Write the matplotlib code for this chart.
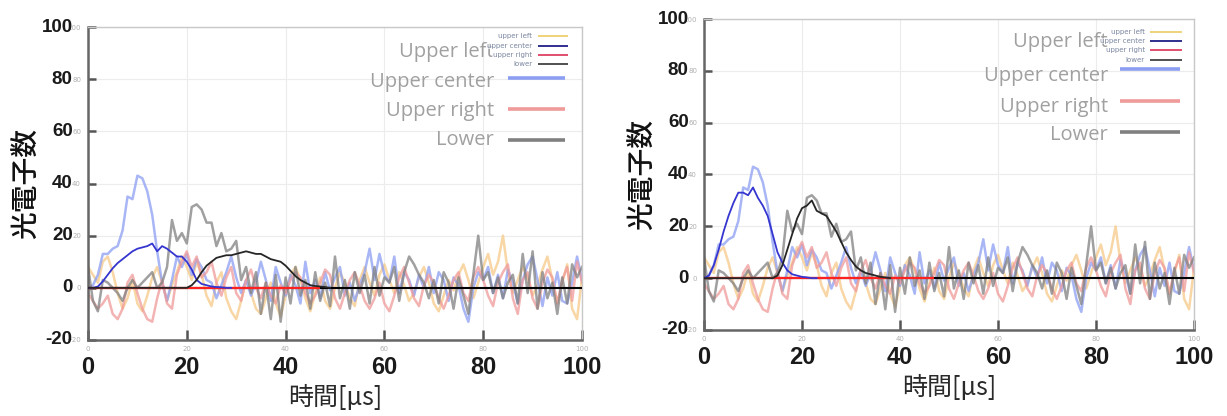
"""Photoelectron waveforms of four PMTs, raw counts with fitted pulses, two events side by side."""

import matplotlib

matplotlib.use("Agg")
import matplotlib.pyplot as plt
import numpy as np

# raw photoelectron counts per 1 us bin (same recorded waveforms in both panels)
upper_left = [8, 5, 2, 10, 12, 6, -2, -8, -4, 3,
              -6, -9, -3, 4, 8, 2, -5, 1, 6, 12,
              8, 3, 10, 5, -3, -7, 2, 6, -4, -9,
              -12, -5, 3, -2, -8, -10, -4, 2, -6, -11,
              -3, 5, 8, 3, -4, -9, -2, 4, -5, -8,
              0, 6, 2, -4, -7, 3, 8, 2, -3, 5,
              9, 3, -2, 6, 1, -5, -2, 4, 8, 2,
              -6, -9, -3, 3, -1, 5, 9, 3, -4, 2,
              8, 13, 5, 10, 20, 6, -2, 3, 8, 4,
              -3, 1, 7, 12, 3, -6, 2, 9, -8, -12, 4]
upper_center = [0, 1, 5, 13, 13, 15, 16, 22, 35, 34,
                43, 42, 37, 28, 14, 2, -5, 3, 12, 8,
                13, 5, 11, 8, 3, 2, -4, 1, 6, 12,
                4, -2, 3, -3, 2, 10, 3, -5, 8, 2,
                -3, 5, 1, -6, 10, -2, 3, -4, 6, -1,
                4, 8, -3, 2, -5, 1, 6, 15, 3, 13,
                5, 2, 12, -2, 6, 3, -3, 5, 0, 8,
                -2, 6, 3, -5, 4, 1, -8, -13, 0, 6,
                3, 8, -2, 5, -4, 7, 2, -6, 3, 9,
                12, 3, -7, 4, -3, 6, -5, -6, 2, 12, 3]
upper_right = [-2, -5, -8, -6, -3, -10, -12, -8, 2, 5,
               -2, -8, -12, -13, -4, 3, -6, -8, 5, 10,
               14, 8, 12, 4, 6, 10, 2, -3, 4, 8,
               -2, -5, 3, 7, 0, -4, 2, -3, -6, 1,
               -2, 3, 6, 4, -2, -6, -3, 2, 7, 5,
               -4, -8, -2, 3, 6, 1, -5, -8, -4, 2,
               -6, -9, -3, 4, 8, 2, -4, -7, 1, 5,
               2, -4, -8, -3, 3, 6, -2, -5, 4, 8,
               3, -3, -7, 2, 6, 9, -4, -10, 3, 6,
               -4, -8, 2, 7, 4, -6, 3, 8, -5, 10, 2]
lower = [8, -5, -9, 3, 2, 0, -2, -5, 0, 3,
         0, 2, 4, 6, 0, 2, 8, 26, 18, 21,
         17, 31, 32, 30, 25, 25, 16, 21, 14, 15,
         18, 3, 8, -2, 6, -10, 2, -12, 5, -13,
         4, -6, 8, -3, 3, -8, 6, -5, 2, -7,
         12, -4, 3, -8, 6, -2, 5, -6, 8, -3,
         4, 2, 8, -5, 6, 12, 9, 5, 2, -4,
         3, -6, 6, 2, -8, 4, -3, -10, 5, 20,
         3, 6, -2, 4, -4, 2, 5, -6, 13, -2,
         14, -8, 6, -4, 2, -10, 4, -6, 9, 4, 8]

# fitted pulses (listed up to where they have decayed to zero)
fit_center_a = [0, 0, 0.5, 2.5, 5, 7.5, 9.5, 11, 12.5, 14,
                15, 15.5, 16, 17, 14, 16, 15, 13.5, 12, 12,
                10, 7, 3, 1.5, 1, 0.5, 0.3, 0.2, 0, 0]
fit_lower_a = [0] * 21 + [1, 3, 6, 8.5, 10, 11.5, 12, 12.5, 12.5,
                          13, 13.5, 14, 13.5, 13, 13, 12, 11, 10.5, 10,
                          8.5, 6.5, 4.5, 3, 2, 1, 0.7, 0.5, 0.3, 0]
fit_center_b = [0, 1, 5, 11, 18, 24, 29, 33, 33, 32,
                35, 31, 28, 24, 17, 10, 6, 3, 1.5, 1,
                0.5, 0.3, 0, 0]
fit_lower_b = [0] * 15 + [1, 5, 11, 17, 23, 27, 28, 30, 26, 25,
                          24, 21, 18, 14, 10, 7, 4.5, 3, 2, 1.5,
                          1, 0.5, 0.3, 0]
fit_right_end = 47

X_TICKS = [0, 20, 40, 60, 80, 100]
Y_TICKS = [-20, 0, 20, 40, 60, 80, 100]
LABELS = ["Upper left", "Upper center", "Upper right", "Lower"]
SMALL_LABELS = ["upper left", "upper center", "upper right", "lower"]

RAW_COLORS = ["#f6c987", "#8c9ef2", "#f09a9a", "#808080"]
SMALL_COLORS = ["#f0d27a", "#30308e", "#e0506e", "#505050"]

plt.rcParams["font.family"] = ["DejaVu Sans"]

# panel geometry in pixels: (left, right, top, bottom) of the plotting frame
PANELS = [
    dict(box=(88, 582, 27, 340), fits=(fit_center_a, fit_lower_a),
         small_rows=(36, 46, 55, 64), small_text_x=532, small_line=(538, 568),
         big_rows=(52, 82, 111, 140), big_text_x=494, big_line=(508, 565),
         line_rows=(None, 78, 109, 140), ylabel_x=27),
    dict(box=(704, 1194, 19, 330), fits=(fit_center_b, fit_lower_b),
         small_rows=(32, 41, 50, 60), small_text_x=1145, small_line=(1150, 1182),
         big_rows=(42, 76, 107, 135), big_text_x=1108, big_line=(1120, 1180),
         line_rows=(None, 69, 101, 132), ylabel_x=643),
]

W, H = 1227, 416


def to_axes(box, px, py):
    left, right, top, bottom = box
    return (px - left) / (right - left), (bottom - py) / (bottom - top)


def draw_panel(fig, spec):
    left, right, top, bottom = spec["box"]
    ax = fig.add_axes([left / W, 1 - bottom / H, (right - left) / W, (bottom - top) / H])

    for values, color in zip([upper_left, upper_center, upper_right, lower], RAW_COLORS):
        ax.plot(np.arange(len(values)), values, color=color, lw=1.8, alpha=0.75, zorder=2)

    center_fit, lower_fit = spec["fits"]
    ax.axhline(0, color="black", lw=1.5, zorder=3)
    ax.hlines(0, 0, fit_right_end, color="#ff2020", lw=1.6, zorder=4)
    ax.plot(np.arange(len(center_fit)), center_fit, color="#3535d0", lw=1.3, zorder=5)
    ax.plot(np.arange(len(lower_fit)), lower_fit, color="#262626", lw=1.3, zorder=5)

    ax.set_xlim(0, 100)
    ax.set_ylim(-20, 100)
    ax.set_xticks(X_TICKS)
    ax.set_yticks(Y_TICKS)
    ax.grid(color="#ececec", lw=0.8)
    ax.set_axisbelow(True)
    ax.tick_params(direction="in", colors="#555555", labelcolor="#b0b0b0",
                   labelsize=5, width=1.8)
    ax.tick_params(axis="y", length=6, pad=5)
    ax.tick_params(axis="x", length=7, pad=4)
    for side in ["left", "bottom"]:
        ax.spines[side].set_color("#666666")
        ax.spines[side].set_linewidth(1.8)
    for side in ["top", "right"]:
        ax.spines[side].set_color("#c8c8c8")
        ax.spines[side].set_linewidth(1.0)

    # large bold tick labels pasted over the small ones
    for v in Y_TICKS:
        ax.annotate(str(v), xy=(0, v), xycoords=("axes fraction", "data"),
                    xytext=(-11, 0), textcoords="offset points", ha="right", va="center",
                    family="Liberation Sans", weight="bold", fontsize=13.5, color="#1a1a1a")
    for v in X_TICKS:
        ax.annotate(str(v), xy=(v, 0), xycoords=("data", "axes fraction"),
                    xytext=(0, -20), textcoords="offset points", ha="center", va="center",
                    family="Liberation Sans", weight="bold", fontsize=17, color="#1a1a1a")

    ax.annotate("時間[μs]", xy=(0.5, 0), xycoords="axes fraction", xytext=(0, -42),
                textcoords="offset points", ha="center", va="center",
                family=["Noto Sans CJK JP", "DejaVu Sans"], fontsize=18, color="#2a2a2a")
    fig.text(spec["ylabel_x"] / W, 1 - (top + bottom) / 2 / H, "光電子数", rotation=90,
             ha="center", va="center", family=["Noto Sans CJK JP", "DejaVu Sans"],
             fontsize=20, weight="medium", color="#111111")

    # legend: big grey labels with thick samples
    box = spec["box"]
    for label, row, line_row, color in zip(LABELS, spec["big_rows"], spec["line_rows"], RAW_COLORS):
        tx, ty = to_axes(box, spec["big_text_x"], row)
        ax.text(tx, ty, label, transform=ax.transAxes, ha="right", va="center",
                family="Open Sans", fontsize=14.5, color="#a0a0a0", zorder=6)
        if line_row is not None:
            x0, ly = to_axes(box, spec["big_line"][0], line_row)
            x1, _ = to_axes(box, spec["big_line"][1], line_row)
            ax.plot([x0, x1], [ly, ly], transform=ax.transAxes, color=color, lw=2.6,
                    solid_capstyle="butt", zorder=6)

    # small legend on top
    for label, row, color in zip(SMALL_LABELS, spec["small_rows"], SMALL_COLORS):
        tx, ty = to_axes(box, spec["small_text_x"], row)
        ax.text(tx, ty, label, transform=ax.transAxes, ha="right", va="center",
                fontsize=5, color="#7a86a0", zorder=7,
                bbox=dict(facecolor="white", edgecolor="none", alpha=0.6, pad=0.3))
        x0, ly = to_axes(box, spec["small_line"][0], row)
        x1, _ = to_axes(box, spec["small_line"][1], row)
        ax.plot([x0, x1], [ly, ly], transform=ax.transAxes, color=color, lw=1.4,
                solid_capstyle="butt", zorder=7)
    return ax


def main() -> None:
    fig = plt.figure(figsize=(W / 100, H / 100), dpi=100)
    for spec in PANELS:
        draw_panel(fig, spec)
    fig.savefig("out.png", dpi=100)
    plt.close(fig)


if __name__ == "__main__":
    main()
